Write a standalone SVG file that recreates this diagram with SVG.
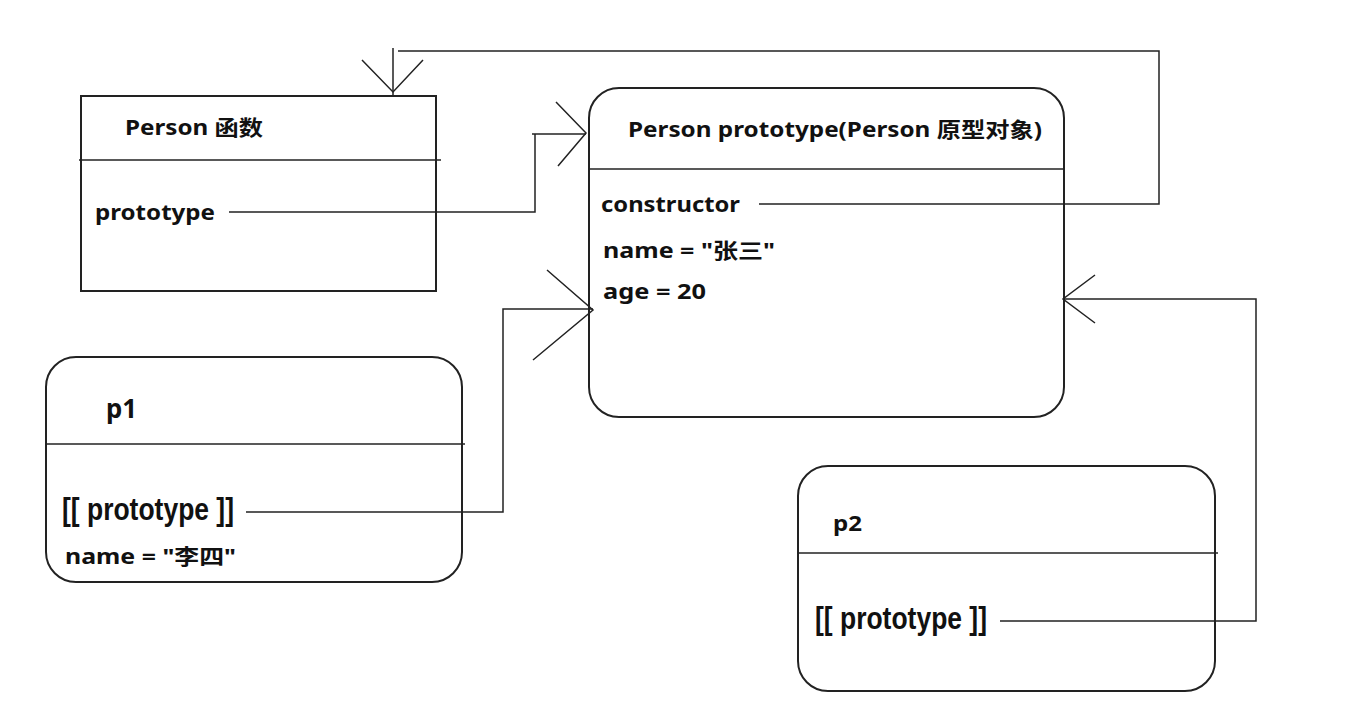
<svg xmlns="http://www.w3.org/2000/svg" width="1365" height="719" viewBox="0 0 1365 719">
<style>
.box{fill:none;stroke:#222;stroke-width:2}
.div{stroke:#222;stroke-width:1.5}
.ln{fill:none;stroke:#222;stroke-width:1.5}
.t{font-family:"Noto Sans","Noto Sans CJK SC",sans-serif;font-weight:bold;font-size:21px;fill:#111}
.n{font-family:"Liberation Sans","Noto Sans CJK SC",sans-serif;font-weight:bold;font-size:32px;fill:#111}
</style>
<rect width="1365" height="719" fill="#fff"/>
<g id="person-fn">
<rect class="box" x="81" y="96" width="355" height="195"/>
<line class="div" x1="79" y1="160" x2="441" y2="160"/>
<text class="t" x="125" y="135" textLength="138" lengthAdjust="spacingAndGlyphs">Person 函数</text>
<text class="t" x="95" y="220" textLength="120" lengthAdjust="spacingAndGlyphs">prototype</text>
</g>
<g id="person-proto">
<rect class="box" x="589" y="88" width="475" height="329" rx="30" ry="30"/>
<line class="div" x1="589" y1="169" x2="1064" y2="169"/>
<text class="t" x="628" y="137" textLength="414" lengthAdjust="spacingAndGlyphs">Person prototype(Person 原型对象)</text>
<text class="t" x="601" y="212" textLength="139" lengthAdjust="spacingAndGlyphs">constructor</text>
<text class="t" x="603" y="258" textLength="172" lengthAdjust="spacingAndGlyphs">name = "张三"</text>
<text class="t" x="603" y="299" textLength="103" lengthAdjust="spacingAndGlyphs">age = 20</text>
</g>
<g id="p1">
<rect class="box" x="46" y="357" width="416" height="225" rx="30" ry="30"/>
<line class="div" x1="46" y1="444" x2="465" y2="444"/>
<text class="t" x="106" y="418" style="font-size:26px" textLength="31" lengthAdjust="spacingAndGlyphs">p1</text>
<text class="n" x="62" y="520" textLength="172" lengthAdjust="spacingAndGlyphs">[[ prototype ]]</text>
<text class="t" x="65" y="564" textLength="171" lengthAdjust="spacingAndGlyphs">name = "李四"</text>
</g>
<g id="p2">
<rect class="box" x="798" y="466" width="417" height="225" rx="30" ry="30"/>
<line class="div" x1="798" y1="553" x2="1218" y2="553"/>
<text class="t" x="833" y="531" textLength="29" lengthAdjust="spacingAndGlyphs">p2</text>
<text class="n" x="815" y="629" textLength="172" lengthAdjust="spacingAndGlyphs">[[ prototype ]]</text>
</g>
<g id="connectors">
<polyline class="ln" points="229,212 535,212 535,134"/>
<line class="ln" x1="532" y1="134" x2="586" y2="134"/>
<polyline class="ln" points="556,102 586,133 558,166"/>
<polyline class="ln" points="759,204 1159,204 1159,51 398,51"/>
<line class="ln" x1="393" y1="48" x2="393" y2="95"/>
<polyline class="ln" points="362,60 393,92 423,60"/>
<polyline class="ln" points="246,512 503,512 503,309 593,309"/>
<polyline class="ln" points="547,270 593,310 533,360"/>
<polyline class="ln" points="1000,621 1256,621 1256,299 1063,299"/>
<polyline class="ln" points="1095,275 1063,299 1095,323"/>
</g>
</svg>
